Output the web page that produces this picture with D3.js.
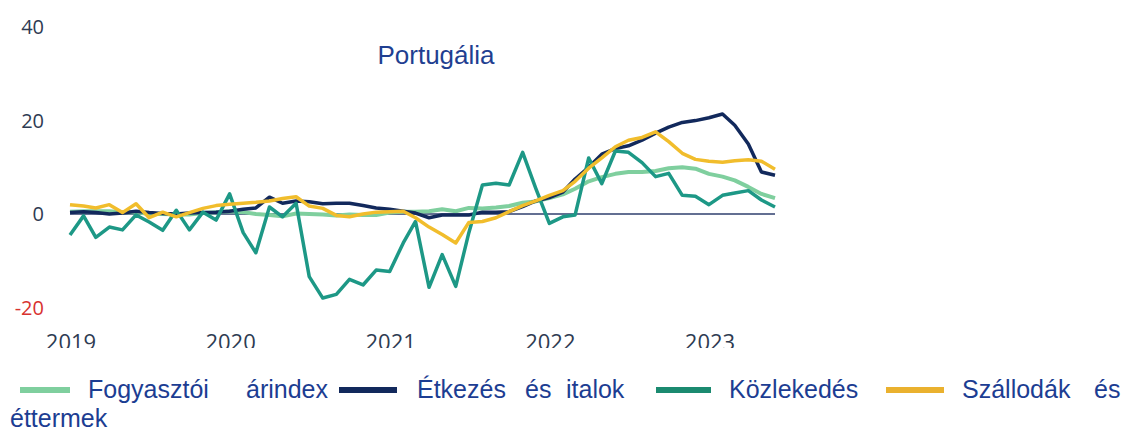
<!DOCTYPE html>
<html>
<head>
<meta charset="utf-8">
<script src="https://cdn.jsdelivr.net/npm/d3@7"></script>
<style>
  body { margin: 0; background: #fff; }
  svg { display: block; }
</style>
</head>
<body>
<svg id="chart" width="1137" height="434"></svg>
<script>
// monthly values, Jan 2019 .. Jun 2023 (% y/y)
const cpi = [0.5, 0.6, 0.6, 0.6, 0.4, 0.4, 0, 0, -0.1, -0.1, 0.2, 0.4,
  0.6, 0.4, 0, -0.2, -0.5, 0.1, 0, -0.1, -0.3, -0.1, -0.2, -0.2,
  0.3, 0.5, 0.5, 0.6, 1, 0.6, 1.3, 1.2, 1.4, 1.7, 2.4, 2.7,
  3.4, 4.2, 5.4, 7, 7.9, 8.6, 9, 9, 9.2, 9.8, 10, 9.7,
  8.6, 8, 7.2, 5.8, 4.3, 3.4];
const food = [0.3, 0.5, 0.3, 0, 0.2, 0.6, 0.3, 0.1, 0, 0.2, 0.3, 0.4,
  0.6, 1, 1.3, 3.6, 2.3, 2.8, 2.6, 2.2, 2.3, 2.3, 1.8, 1.3,
  1, 0.6, 0.2, -0.8, -0.2, -0.2, -0.2, 0.4, 0.4, 0.5, 1.6, 2.8,
  3.5, 4.7, 7.5, 10, 12.8, 14, 14.6, 15.8, 17.3, 18.6, 19.6, 20,
  20.6, 21.4, 19, 15, 9, 8.3];
const transport = [-4.5, -0.4, -5, -2.8, -3.4, -0.2, -1.7, -3.5, 0.8, -3.4, 0.4, -1.3,
  4.3, -4, -8.3, 1.5, -0.6, 2.3, -13.4, -18, -17.2, -14, -15.2, -12,
  -12.3, -6.2, -1.6, -15.7, -8.7, -15.5, -4, 6.2, 6.6, 6.2, 13.2, 5.5,
  -2, -0.6, -0.2, 12, 6.5, 13.5, 13.2, 11, 8, 8.7, 4, 3.8,
  2, 4, 4.5, 5, 3, 1.5];
const hotels = [2, 1.7, 1.3, 2, 0.3, 2.2, -0.8, 0.4, -0.6, 0.3, 1.2, 1.8,
  2.1, 2.3, 2.5, 2.8, 3.3, 3.7, 1.7, 1.2, -0.3, -0.6, 0, 0.4,
  0.5, 0.6, -0.8, -2.8, -4.4, -6.2, -1.8, -1.6, -0.8, 0.5, 1.8, 2.8,
  4, 5, 7, 9.8, 12, 14.4, 15.8, 16.4, 17.6, 15.5, 13, 11.7,
  11.3, 11.1, 11.4, 11.6, 11.3, 9.6];

const yTicks = [40, 20, 0, -20];
const xTickYears = [2019, 2020, 2021, 2022, 2023];

const seriesColors = ["#7fcf9e", "#12295c", "#1d9886", "#f1bd2c"];
const swatchColors = ["#7fcf9e", "#12295c", "#1b8a70", "#eab12e"];

const dates = d3.timeMonth.range(new Date(2019, 0, 1), new Date(2023, 6, 1));
const series = [cpi, food, transport, hotels];

const svg = d3.select("#chart");

const x = d3.scaleTime()
  .domain([new Date(2019, 0, 1), new Date(2023, 5, 1)])
  .range([70, 775]);
const y = d3.scaleLinear().domain([-20, 40]).range([307.4, 27.2]);

// y labels
svg.append("g")
  .selectAll("text")
  .data(yTicks)
  .join("text")
  .attr("x", 44)
  .attr("y", (d) => y(d))
  .attr("dy", "0.36em")
  .attr("text-anchor", "end")
  .style("font-family", "'Open Sans', sans-serif")
  .style("font-size", "20px")
  .style("fill", (d) => (d < 0 ? "#d8322f" : "#2e3b52"))
  .text((d) => d);

// x labels (clipped at the bottom like the source)
svg.append("clipPath").attr("id", "xclip")
  .append("rect").attr("x", 0).attr("y", 320).attr("width", 800).attr("height", 28);

svg.append("g")
  .attr("clip-path", "url(#xclip)")
  .selectAll("text")
  .data(xTickYears)
  .join("text")
  .attr("x", (d) => x(new Date(d, 0, 1)) + 1)
  .attr("y", 350)
  .attr("text-anchor", "middle")
  .style("font-family", "'Open Sans', sans-serif")
  .style("font-size", "22px")
  .style("fill", "#2e3b52")
  .text((d) => d);

// zero line
svg.append("line")
  .attr("x1", x.range()[0])
  .attr("x2", x.range()[1])
  .attr("y1", y(0))
  .attr("y2", y(0))
  .attr("stroke", "#2f3f6e")
  .attr("stroke-width", 1.5);

const line = d3.line()
  .x((d) => x(d[0]))
  .y((d) => y(d[1]));

svg.append("g")
  .selectAll("path")
  .data(series)
  .join("path")
  .attr("d", (vals) => line(vals.map((v, i) => [dates[i], v])))
  .attr("fill", "none")
  .attr("stroke", (d, i) => seriesColors[i])
  .attr("stroke-width", (d, i) => (i === 0 ? 4 : 3.5))
  .attr("stroke-linejoin", "round");

// title
svg.append("text")
  .attr("x", 436)
  .attr("y", 64)
  .attr("text-anchor", "middle")
  .style("font-family", "'Liberation Sans', Arial, sans-serif")
  .style("font-size", "26px")
  .style("fill", "#1f3f91")
  .text("Portugália");

// legend (justified paragraph, wraps onto a second line)
const legendItems = [
  { swatch: [20, 70], words: [["Fogyasztói", 88], ["árindex", 246]] },
  { swatch: [339, 397], words: [["Étkezés", 417], ["és", 525], ["italok", 566]] },
  { swatch: [656, 711], words: [["Közlekedés", 729]] },
  { swatch: [886, 944], words: [["Szállodák", 962], ["és", 1094]] },
];

const legend = svg.append("g")
  .style("font-family", "'Liberation Sans', Arial, sans-serif")
  .style("font-size", "25px")
  .style("fill", "#1c3d92");

legendItems.forEach((item, i) => {
  legend.append("line")
    .attr("x1", item.swatch[0])
    .attr("x2", item.swatch[1])
    .attr("y1", 390)
    .attr("y2", 390)
    .attr("stroke", swatchColors[i])
    .attr("stroke-width", 6);
  item.words.forEach(([w, wx]) => {
    legend.append("text").attr("x", wx).attr("y", 398).text(w);
  });
});
legend.append("text").attr("x", 10).attr("y", 427).text("éttermek");
</script>
</body>
</html>
